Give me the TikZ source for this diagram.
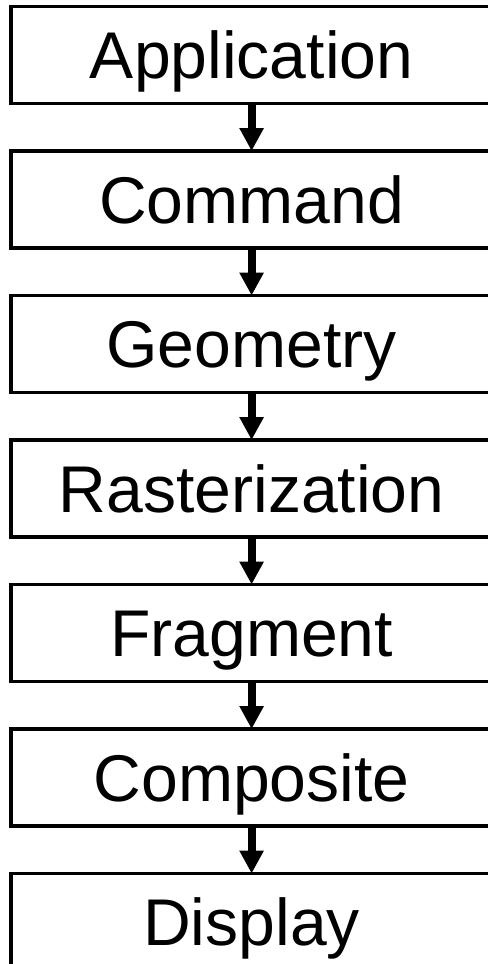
\documentclass[tikz,border=0pt]{standalone}
\usepackage{fontspec}
\setmainfont{Liberation Sans}
\usepackage{tikz}
\usetikzlibrary{
  arrows.meta,
  positioning
}
\definecolor{StageBlack}{RGB}{0, 0, 0}
\tikzset{
    stagebox/.style={
        rectangle, draw=StageBlack, line width=0.0825cm, outer sep=0pt,
        minimum width=12.025cm, minimum height=2.425cm, inner sep=0pt,
        font=\fontsize{47}{56}\selectfont, text height=33.65pt, text depth=0pt
    },
    stagearrow/.style={
        draw=StageBlack, line width=0.2cm,
        -{Triangle[width=0.575cm, length=0.575cm]}
    }
}

\begin{document}
\begin{tikzpicture}[node distance=1.1875cm]
    \useasboundingbox (0,0) rectangle (12.175,-24.1);
    \node[stagebox] (app) at (6.29,-1.375) {Application};
    \node[stagebox, below=of app] (cmd) {Command};
    \node[stagebox, below=of cmd] (geom) {Geometry};
    \node[stagebox, below=of geom] (rast) {Rasterization};
    \node[stagebox, below=of rast] (frag) {Fragment};
    \node[stagebox, below=of frag] (comp) {Composite};
    \node[stagebox, below=of comp] (disp) {Display};
    \foreach \from/\to in {app/cmd, cmd/geom, geom/rast, rast/frag, frag/comp, comp/disp}
        \draw[stagearrow] (\from.south) -- (\to.north);
\end{tikzpicture}
\end{document}
